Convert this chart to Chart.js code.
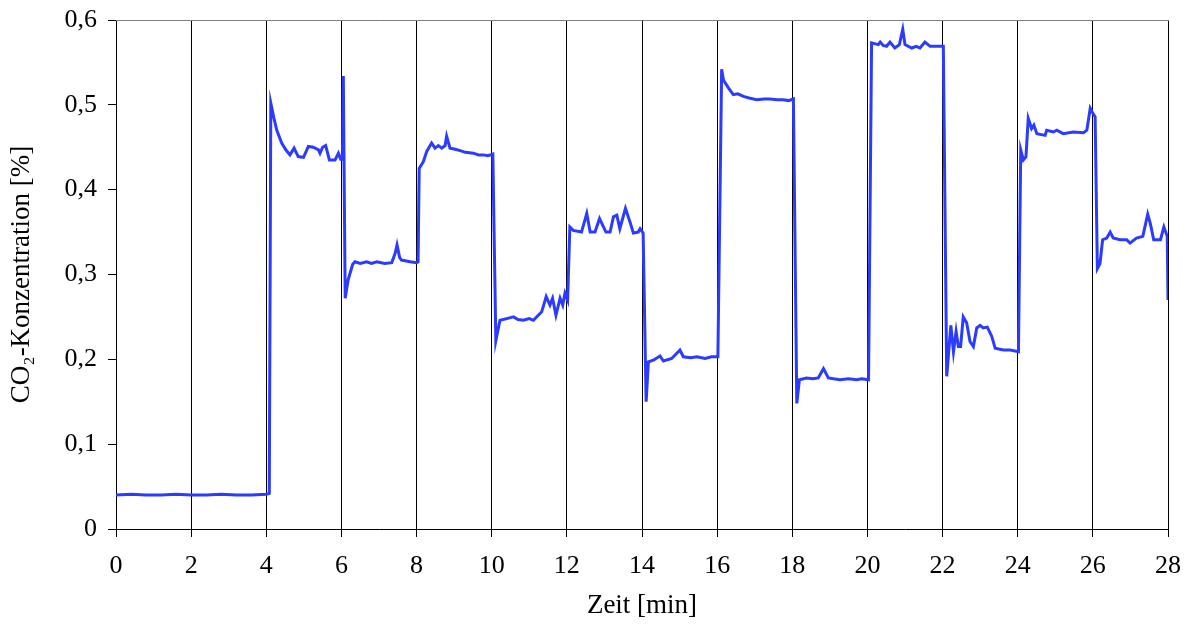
<!DOCTYPE html>
<html>
<head>
<meta charset="utf-8">
<script src="https://cdn.jsdelivr.net/npm/chart.js@4.4.1/dist/chart.umd.min.js"></script>
<style>
  html, body { margin: 0; padding: 0; background: #ffffff; }
  #wrap { width: 1188px; height: 626px; position: relative; }
</style>
</head>
<body>
<div id="wrap"><canvas id="c" width="1188" height="626"></canvas></div>
<script>
// ---- data ----
const times = [
  0, 0.4, 0.8, 1.2, 1.6, 2.0, 2.4, 2.8, 3.2, 3.6, 4.0, 4.08,
  4.12, 4.2, 4.28, 4.41, 4.52, 4.63, 4.74, 4.85, 4.99, 5.12, 5.25, 5.39, 5.43, 5.5, 5.58, 5.68, 5.83, 5.92, 5.98, 6.03, 6.05,
  6.1, 6.18, 6.3, 6.36, 6.5, 6.67, 6.8, 6.94, 7.15, 7.34, 7.43, 7.48, 7.55, 7.6, 7.83, 8.0, 8.04,
  8.07, 8.18, 8.27, 8.4, 8.49, 8.58, 8.67, 8.76, 8.8, 8.89, 9.0, 9.16, 9.3, 9.51, 9.65, 9.78, 9.9, 10.03,
  10.11, 10.22, 10.4, 10.58, 10.7, 10.84, 11.0, 11.11, 11.24, 11.33, 11.45, 11.55, 11.62, 11.71, 11.82, 11.89, 11.95, 12.02,
  12.08, 12.17, 12.39, 12.53, 12.62, 12.75, 12.87, 13.04, 13.15, 13.24, 13.33, 13.41, 13.56, 13.68, 13.77, 13.9, 13.95, 14.03,
  14.11, 14.17, 14.3, 14.48, 14.57, 14.79, 15.01, 15.1, 15.3, 15.46, 15.68, 15.85, 16.02,
  16.12, 16.17, 16.3, 16.43, 16.55, 16.7, 16.85, 17.05, 17.25, 17.41, 17.6, 17.76, 17.9, 18.03,
  18.12, 18.19, 18.38, 18.55, 18.69, 18.83, 18.96, 19.1, 19.27, 19.5, 19.71, 19.85, 20.03,
  20.11, 20.29, 20.34, 20.42, 20.51, 20.6, 20.73, 20.85, 20.94, 21.0, 21.18, 21.3, 21.4, 21.53, 21.67, 21.85, 22.02,
  22.11, 22.22, 22.29, 22.36, 22.42, 22.48, 22.55, 22.64, 22.73, 22.82, 22.91, 23.0, 23.08, 23.19, 23.31, 23.4, 23.62, 23.8, 24.02,
  24.08, 24.15, 24.22, 24.28, 24.37, 24.43, 24.51, 24.73, 24.77, 24.95, 25.04, 25.21, 25.48, 25.75, 25.84, 25.93, 26.0, 26.06,
  26.12, 26.19, 26.26, 26.37, 26.46, 26.54, 26.72, 26.9, 26.99, 27.16, 27.33, 27.46, 27.53, 27.62, 27.8, 27.89, 27.98, 28.0
];
const co2 = [
  0.040, 0.041, 0.040, 0.040, 0.041, 0.040, 0.040, 0.041, 0.040, 0.040, 0.041, 0.042,
  0.502, 0.485, 0.470, 0.455, 0.447, 0.441, 0.449, 0.439, 0.438, 0.451, 0.450, 0.447, 0.443, 0.450, 0.452, 0.435, 0.435, 0.443, 0.436, 0.436, 0.534,
  0.272, 0.294, 0.312, 0.315, 0.313, 0.315, 0.313, 0.315, 0.313, 0.314, 0.325, 0.335, 0.320, 0.317, 0.315, 0.314, 0.315,
  0.425, 0.433, 0.445, 0.455, 0.449, 0.452, 0.449, 0.452, 0.463, 0.449, 0.448, 0.446, 0.444, 0.443, 0.441, 0.441, 0.440, 0.442,
  0.222, 0.246, 0.248, 0.250, 0.247, 0.246, 0.248, 0.246, 0.252, 0.256, 0.274, 0.264, 0.272, 0.252, 0.272, 0.264, 0.278, 0.270,
  0.356, 0.352, 0.350, 0.372, 0.350, 0.350, 0.366, 0.350, 0.350, 0.368, 0.370, 0.354, 0.378, 0.362, 0.349, 0.350, 0.354, 0.349,
  0.150, 0.197, 0.199, 0.204, 0.198, 0.201, 0.211, 0.203, 0.202, 0.203, 0.201, 0.203, 0.203,
  0.542, 0.529, 0.520, 0.512, 0.513, 0.510, 0.508, 0.506, 0.507, 0.507, 0.506, 0.506, 0.505, 0.507,
  0.148, 0.176, 0.178, 0.177, 0.178, 0.189, 0.178, 0.177, 0.176, 0.177, 0.176, 0.177, 0.176,
  0.573, 0.571, 0.574, 0.570, 0.569, 0.574, 0.567, 0.571, 0.589, 0.571, 0.567, 0.569, 0.567, 0.574, 0.569, 0.569, 0.569,
  0.180, 0.240, 0.209, 0.233, 0.215, 0.215, 0.250, 0.243, 0.221, 0.215, 0.237, 0.240, 0.237, 0.238, 0.227, 0.213, 0.211, 0.211, 0.209,
  0.447, 0.435, 0.439, 0.484, 0.472, 0.476, 0.466, 0.464, 0.470, 0.468, 0.470, 0.466, 0.468, 0.467, 0.470, 0.496, 0.490, 0.486,
  0.307, 0.313, 0.341, 0.343, 0.350, 0.343, 0.341, 0.341, 0.337, 0.343, 0.345, 0.371, 0.360, 0.341, 0.341, 0.356, 0.345, 0.270
];
const xTicks = [0, 2, 4, 6, 8, 10, 12, 14, 16, 18, 20, 22, 24, 26, 28];
const yTickLabels = ['0', '0,1', '0,2', '0,3', '0,4', '0,5', '0,6'];
const xTitle = 'Zeit [min]';
const yTitle = 'CO\u2082-Konzentration [%]';

const points = times.map((t, i) => ({ x: t, y: co2[i] }));
const FONT = 'Liberation Serif, Times New Roman, serif';

const topBorder = {
  id: 'topBorder',
  afterDraw(chart) {
    const a = chart.chartArea, ctx = chart.ctx;
    ctx.save();
    ctx.strokeStyle = '#808080';
    ctx.lineWidth = 1;
    ctx.beginPath();
    ctx.moveTo(a.left, a.top + 0.5);
    ctx.lineTo(a.right + 1, a.top + 0.5);
    ctx.stroke();
    ctx.restore();
  }
};

new Chart(document.getElementById('c'), {
  type: 'line',
  data: {
    datasets: [{
      data: points,
      borderColor: '#2b3bff',
      borderWidth: 3,
      pointRadius: 0,
      tension: 0,
      fill: false
    }]
  },
  options: {
    responsive: false,
    animation: false,
    events: [],
    layout: { padding: { top: 20, right: 20, left: 0, bottom: 0 } },
    plugins: { legend: { display: false }, tooltip: { enabled: false } },
    scales: {
      x: {
        type: 'linear',
        min: 0, max: 28,
        afterBuildTicks(scale) { scale.ticks = xTicks.map(v => ({ value: v })); },
        afterFit(scale) { scale.height = 97; scale.paddingLeft = 0; scale.paddingRight = 0; },
        ticks: { color: '#000', font: { family: FONT, size: 26 }, padding: 14, maxRotation: 0, autoSkip: false,
                 callback: (v) => String(v) },
        grid: { color: '#000', lineWidth: 1, tickLength: 8, drawOnChartArea: true },
        border: { color: '#000', width: 1 },
        title: { display: true, text: xTitle, color: '#000', font: { family: FONT, size: 27 }, padding: { top: 0, bottom: 4 } }
      },
      y: {
        min: 0, max: 0.6,
        afterBuildTicks(scale) { scale.ticks = yTickLabels.map((_, i) => ({ value: i / 10 })); },
        afterFit(scale) { scale.width = 116; scale.paddingTop = 0; scale.paddingBottom = 0; },
        ticks: { color: '#000', font: { family: FONT, size: 26 }, padding: 11,
                 callback: (v, i) => yTickLabels[i] },
        grid: { color: '#000', lineWidth: 1, tickLength: 8, drawOnChartArea: false },
        border: { color: '#000', width: 1 },
        title: { display: true, text: yTitle, color: '#000', font: { family: FONT, size: 27 }, padding: { top: 6, bottom: 0 } }
      }
    }
  },
  plugins: [topBorder]
});
</script>
</body>
</html>
